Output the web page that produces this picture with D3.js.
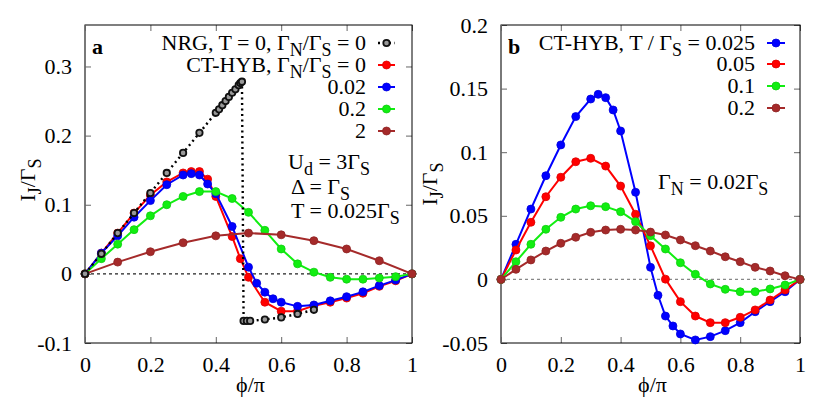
<!DOCTYPE html>
<html lang="en">
<head>
    <meta charset="UTF-8">
    <title>Josephson current vs phase</title>
    <style>
        body { margin: 0; background: #fff; }
    </style>
</head>
<body>
    <svg id="chart" width="830" height="398"></svg>
    <script src="https://d3js.org/d3.v7.min.js"></script>
    <script>
        // ---------- data ----------
        // panel a
        const nrgPhi = [0, 0.05, 0.1, 0.15, 0.2, 0.25, 0.3, 0.35, 0.4, 0.41, 0.42, 0.43, 0.44, 0.45, 0.46, 0.47, 0.475, 0.48,
                        0.485, 0.495, 0.505, 0.55, 0.6, 0.65, 0.7];
        const nrgVal = [0, 0.029, 0.059, 0.088, 0.117, 0.146, 0.175, 0.204, 0.233, 0.238, 0.244, 0.25, 0.256, 0.262, 0.267, 0.273, 0.276, 0.278,
                        -0.068, -0.068, -0.068, -0.066, -0.063, -0.058, -0.052];

        const redPhiA = [0, 0.05, 0.1, 0.15, 0.2, 0.25, 0.3, 0.325, 0.35, 0.375, 0.4, 0.45, 0.475, 0.5, 0.55, 0.6, 0.65, 0.7, 0.75, 0.8, 0.85, 0.9, 0.95, 1];
        const redValA = [0, 0.030, 0.059, 0.088, 0.114, 0.133, 0.146, 0.148, 0.148, 0.137, 0.112, 0.054, 0.022, -0.005, -0.041, -0.054, -0.054, -0.046, -0.041, -0.035, -0.028, -0.018, -0.010, 0];

        const bluePhiA = [0, 0.05, 0.1, 0.15, 0.2, 0.25, 0.3, 0.325, 0.35, 0.375, 0.4, 0.45, 0.5, 0.525, 0.55, 0.575, 0.6, 0.65, 0.7, 0.75, 0.8, 0.85, 0.9, 0.95, 1];
        const blueValA = [0, 0.030, 0.055, 0.082, 0.106, 0.129, 0.143, 0.145, 0.143, 0.130, 0.116, 0.0686, 0.0097, -0.0135, -0.0265, -0.036, -0.041, -0.047, -0.045, -0.039, -0.033, -0.026, -0.017, -0.009, 0];

        const greenPhiA = [0, 0.05, 0.1, 0.15, 0.2, 0.25, 0.3, 0.35, 0.4, 0.45, 0.5, 0.55, 0.6, 0.65, 0.7, 0.75, 0.8, 0.85, 0.9, 0.95, 1];
        const greenValA = [0, 0.022, 0.043, 0.064, 0.084, 0.1, 0.112, 0.119, 0.119, 0.109, 0.089, 0.063, 0.036, 0.0145, 0.0025, -0.005, -0.0077, -0.0077, -0.006, -0.004, 0];

        const brownPhiA = [0, 0.1, 0.2, 0.3, 0.4, 0.5, 0.6, 0.7, 0.8, 0.9, 1];
        const brownValA = [0, 0.017, 0.032, 0.045, 0.055, 0.059, 0.0565, 0.048, 0.036, 0.019, 0];

        // panel b
        const bluePhiB = [0, 0.05, 0.1, 0.15, 0.2, 0.25, 0.3, 0.325, 0.35, 0.375, 0.4, 0.45, 0.5, 0.525, 0.55, 0.575, 0.6, 0.65, 0.7, 0.75, 0.8, 0.85, 0.9, 0.95, 1];
        const blueValB = [0, 0.0276, 0.0553, 0.0815, 0.1057, 0.128, 0.1418, 0.1455, 0.1429, 0.1332, 0.1167, 0.0685, 0.0095, -0.0125, -0.0288, -0.0366, -0.0429, -0.0476, -0.045, -0.0403, -0.034, -0.0254, -0.0175, -0.0097, 0];

        const phiB = [0, 0.05, 0.1, 0.15, 0.2, 0.25, 0.3, 0.35, 0.4, 0.45, 0.5, 0.55, 0.6, 0.65, 0.7, 0.75, 0.8, 0.85, 0.9, 0.95, 1];
        const redValB = [0, 0.0231, 0.0449, 0.065, 0.0803, 0.0925, 0.0952, 0.0891, 0.0734, 0.0512, 0.0264, 0.0002, -0.0175, -0.0288, -0.034, -0.034, -0.0298, -0.024, -0.0162, -0.0083, 0];
        const greenValB = [0, 0.0139, 0.0276, 0.0394, 0.0488, 0.0553, 0.0579, 0.0572, 0.0532, 0.0454, 0.0344, 0.0239, 0.0131, 0.004, -0.0036, -0.0078, -0.0097, -0.0097, -0.0075, -0.0044, 0];
        const brownValB = [0, 0.0079, 0.0153, 0.0223, 0.0284, 0.0331, 0.037, 0.0388, 0.0394, 0.0388, 0.0372, 0.0349, 0.031, 0.0265, 0.0223, 0.0178, 0.0139, 0.0095, 0.0066, 0.0029, 0];

        // ticks
        const xTicks = [0, 0.2, 0.4, 0.6, 0.8, 1];
        const xTickLabels = ["0", "0.2", "0.4", "0.6", "0.8", "1"];
        const yTicksA = [-0.1, 0, 0.1, 0.2, 0.3];
        const yTickLabelsA = ["-0.1", "0", "0.1", "0.2", "0.3"];
        const yTicksB = [-0.05, 0, 0.05, 0.1, 0.15, 0.2];
        const yTickLabelsB = ["-0.05", "0", "0.05", "0.1", "0.15", "0.2"];

        // ---------- helpers ----------
        const svg = d3.select("#chart");
        const SERIF = '"Liberation Serif", serif';
        const FS = 22;
        const zip = (xs, ys) => xs.map((x, i) => ({ x, y: ys[i] }));

        // parts: [text, isSub]
        function richText(g, x, y, parts, anchor, size = FS) {
            const t = g.append("text")
                .attr("x", x).attr("y", y)
                .attr("text-anchor", anchor)
                .style("font-family", SERIF)
                .style("font-size", size + "px");
            let shifted = false;
            parts.forEach(([s, sub]) => {
                const sp = t.append("tspan").text(s);
                if (sub && !shifted) { sp.attr("dy", 6).style("font-size", Math.round(size * 0.8) + "px"); shifted = true; }
                else if (sub) { sp.style("font-size", Math.round(size * 0.8) + "px"); }
                else if (shifted) { sp.attr("dy", -6); shifted = false; }
            });
            return t;
        }

        function makePanel(opt) {
            const g = svg.append("g");
            const x = d3.scaleLinear().domain([0, 1]).range([opt.left, opt.right]);
            const y = d3.scaleLinear().domain(opt.yDomain).range([opt.bottom, opt.top]);

            // zero line
            g.append("line")
                .attr("x1", x(0)).attr("x2", x(1))
                .attr("y1", y(0)).attr("y2", y(0))
                .attr("stroke", opt.zeroColor).attr("stroke-width", 1.2)
                .attr("stroke-dasharray", "3,3");

            // axes with inward ticks on all sides
            const tickLen = 6;
            const bottom = g.append("g").attr("transform", `translate(0,${opt.bottom})`)
                .call(d3.axisBottom(x).tickValues(xTicks).tickSize(-tickLen).tickPadding(13)
                    .tickFormat((d, i) => xTickLabels[i]));
            const top = g.append("g").attr("transform", `translate(0,${opt.top})`)
                .call(d3.axisTop(x).tickValues(xTicks).tickSize(-tickLen).tickFormat(""));
            const left = g.append("g").attr("transform", `translate(${opt.left},0)`)
                .call(d3.axisLeft(y).tickValues(opt.yTicks).tickSize(-tickLen).tickPadding(13)
                    .tickFormat((d, i) => opt.yTickLabels[i]));
            const right = g.append("g").attr("transform", `translate(${opt.right},0)`)
                .call(d3.axisRight(y).tickValues(opt.yTicks).tickSize(-tickLen).tickFormat(""));
            [bottom, top, left, right].forEach(a => {
                a.select(".domain").remove();
                a.selectAll(".tick line").attr("stroke", "#666");
                a.selectAll("text")
                    .style("font-family", SERIF).style("font-size", FS + "px")
                    .attr("fill", "#000");
            });
            bottom.selectAll("text").attr("dy", "0.71em");

            // frame
            g.append("rect")
                .attr("x", opt.left).attr("y", opt.top)
                .attr("width", opt.right - opt.left).attr("height", opt.bottom - opt.top)
                .attr("fill", "none").attr("stroke", "#000").attr("stroke-width", 1);
            g.append("line")
                .attr("x1", opt.left).attr("x2", opt.left)
                .attr("y1", opt.top).attr("y2", opt.bottom)
                .attr("stroke", "#777").attr("stroke-width", 1.5);

            // axis labels
            g.append("text")
                .attr("x", (opt.left + opt.right) / 2 + 2).attr("y", 392)
                .attr("text-anchor", "middle")
                .style("font-family", SERIF).style("font-size", FS + "px")
                .text("\u03D5/\u03C0");
            const yl = g.append("g").attr("transform", `translate(${opt.yLabelX},${opt.yLabelY}) rotate(-90)`);
            richText(yl, 0, 0, [["I"], ["J", true], ["/\u0393"], ["S", true]], "middle");

            // panel letter
            g.append("text")
                .attr("x", opt.left + 7).attr("y", 54)
                .style("font-family", SERIF)
                .style("font-size", FS + "px").style("font-weight", "bold")
                .text(opt.letter);

            return { g, x, y };
        }

        function drawSeries(p, data, color) {
            const line = d3.line().x(d => p.x(d.x)).y(d => p.y(d.y));
            p.g.append("path").datum(data)
                .attr("d", line).attr("fill", "none")
                .attr("stroke", color).attr("stroke-width", 2);
            p.g.append("g").selectAll("circle").data(data).join("circle")
                .attr("cx", d => p.x(d.x)).attr("cy", d => p.y(d.y))
                .attr("r", 4).attr("fill", color)
                .attr("stroke", d3.color(color).darker(0.4)).attr("stroke-width", 0.8);
        }

        function drawNrg(p, data) {
            const line = d3.line().x(d => p.x(d.x)).y(d => p.y(d.y));
            p.g.append("path").datum(data)
                .attr("d", line).attr("fill", "none")
                .attr("stroke", "#000").attr("stroke-width", 2.4)
                .attr("stroke-dasharray", "2,3.5");
            p.g.append("g").selectAll("circle").data(data).join("circle")
                .attr("cx", d => p.x(d.x)).attr("cy", d => p.y(d.y))
                .attr("r", 3.2).attr("fill", "#999")
                .attr("stroke", "#111").attr("stroke-width", 1.8);
        }

        function legendSample(g, x1, x2, y, color, nrg) {
            g.append("line").attr("x1", x1).attr("x2", x2).attr("y1", y).attr("y2", y)
                .attr("stroke", color).attr("stroke-width", nrg ? 2.4 : 2)
                .attr("stroke-dasharray", nrg ? "2,3.5" : null);
            g.append("circle").attr("cx", (x1 + x2) / 2).attr("cy", y)
                .attr("r", nrg ? 3.2 : 4)
                .attr("fill", nrg ? "#999" : color)
                .attr("stroke", nrg ? "#111" : d3.color(color).darker(0.4))
                .attr("stroke-width", nrg ? 1.8 : 0.8);
        }

        const RED = "#ff0000", BLUE = "#0000ff", GREEN = "#11ee11", BROWN = "#a52a2a";

        // ---------- panel a ----------
        const pa = makePanel({
            left: 85, right: 412, top: 25, bottom: 343,
            yDomain: [-0.1, 0.36], yTicks: yTicksA, yTickLabels: yTickLabelsA,
            zeroColor: "#222", yLabelX: 35, yLabelY: 180, letter: "a"
        });
        drawSeries(pa, zip(redPhiA, redValA), RED);
        drawSeries(pa, zip(bluePhiA, blueValA), BLUE);
        drawSeries(pa, zip(greenPhiA, greenValA), GREEN);
        drawSeries(pa, zip(brownPhiA, brownValA), BROWN);
        drawNrg(pa, zip(nrgPhi, nrgVal));

        const legA = svg.append("g");
        const legAx = 366, sA1 = 378, sA2 = 395;
        richText(legA, legAx, 50, [["NRG, T = 0, \u0393"], ["N", true], ["/\u0393"], ["S", true], [" = 0"]], "end");
        legendSample(legA, sA1, sA2, 43, "#000", true);
        richText(legA, legAx, 72, [["CT-HYB, \u0393"], ["N", true], ["/\u0393"], ["S", true], [" = 0"]], "end");
        legendSample(legA, sA1, sA2, 65, RED);
        richText(legA, legAx, 94, [["0.02"]], "end");
        legendSample(legA, sA1, sA2, 87, BLUE);
        richText(legA, legAx, 116, [["0.2"]], "end");
        legendSample(legA, sA1, sA2, 109, GREEN);
        richText(legA, legAx, 138, [["2"]], "end");
        legendSample(legA, sA1, sA2, 131, BROWN);

        richText(legA, 288, 169, [["U"], ["d", true], [" = 3\u0393"], ["S", true]], "start");
        richText(legA, 291, 194, [["\u0394  = \u0393"], ["S", true]], "start");
        richText(legA, 291, 218, [["T  = 0.025\u0393"], ["S", true]], "start");

        // ---------- panel b ----------
        const pb = makePanel({
            left: 501, right: 800, top: 25, bottom: 343,
            yDomain: [-0.05, 0.2], yTicks: yTicksB, yTickLabels: yTickLabelsB,
            zeroColor: "#888", yLabelX: 437, yLabelY: 184, letter: "b"
        });
        drawSeries(pb, zip(bluePhiB, blueValB), BLUE);
        drawSeries(pb, zip(phiB, redValB), RED);
        drawSeries(pb, zip(phiB, greenValB), GREEN);
        drawSeries(pb, zip(phiB, brownValB), BROWN);

        const legB = svg.append("g");
        const legBx = 755, sB1 = 767, sB2 = 785;
        richText(legB, legBx, 50, [["CT-HYB, T / \u0393"], ["S", true], [" = 0.025"]], "end");
        legendSample(legB, sB1, sB2, 43, BLUE);
        richText(legB, legBx, 71, [["0.05"]], "end");
        legendSample(legB, sB1, sB2, 64, RED);
        richText(legB, legBx, 93, [["0.1"]], "end");
        legendSample(legB, sB1, sB2, 86, GREEN);
        richText(legB, legBx, 115, [["0.2"]], "end");
        legendSample(legB, sB1, sB2, 108, BROWN);

        richText(legB, 658, 189, [["\u0393"], ["N", true], [" = 0.02\u0393"], ["S", true]], "start");
    </script>
</body>
</html>
